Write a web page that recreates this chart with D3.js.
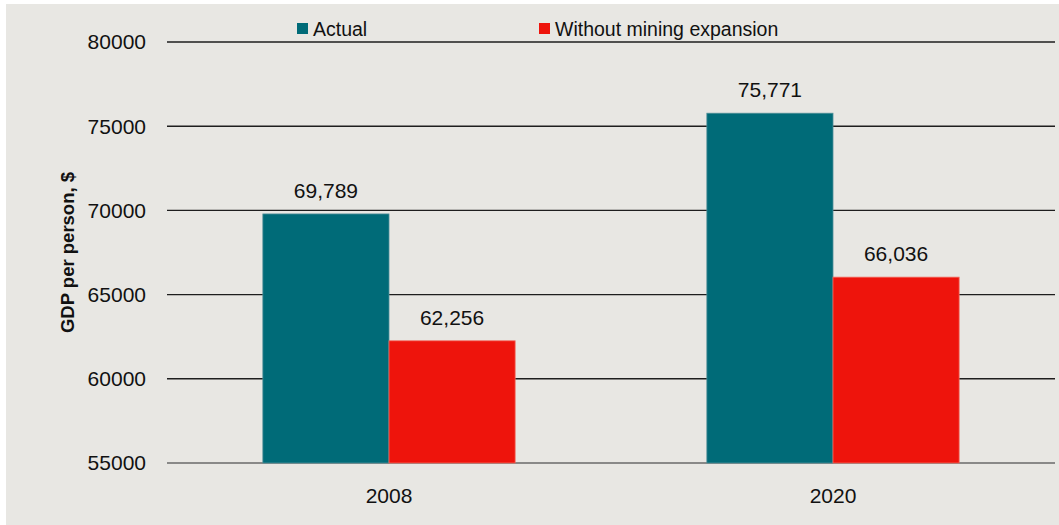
<!DOCTYPE html>
<html>
<head>
<meta charset="utf-8">
<script src="https://cdn.jsdelivr.net/npm/d3@7"></script>
<style>
  html, body { margin: 0; padding: 0; background: #ffffff; }
  svg { display: block; }
  text { font-family: "Liberation Sans", Arial, sans-serif; fill: #111; }
</style>
</head>
<body>
<svg id="chart" width="1059" height="525"></svg>
<script>
// GDP per person, actual vs. without the mining expansion
const years = ["2008", "2020"];
const seriesNames = ["Actual", "Without mining expansion"];
const actual = [69789, 75771];
const withoutMining = [62256, 66036];
const yTicks = [55000, 60000, 65000, 70000, 75000, 80000];
const colors = ["#006b78", "#ee140c"];

const svg = d3.select("#chart");
const W = 1059, H = 525;
const margin = { left: 167, right: 4, top: 42, bottom: 62 };

// panel background
svg.append("rect").attr("x", 6).attr("y", 4).attr("width", W - 6).attr("height", H - 4)
  .attr("fill", "#e8e7e3");

const x0 = d3.scaleBand().domain(years).range([margin.left, W - margin.right]);
const x1 = d3.scaleBand().domain(seriesNames).range([0, x0.bandwidth()]).paddingOuter(0.76).paddingInner(0);
const y = d3.scaleLinear().domain([55000, 80000]).range([H - margin.bottom, margin.top]);

// horizontal grid lines
svg.append("g").selectAll("line").data(yTicks).join("line")
  .attr("x1", margin.left).attr("x2", W - margin.right)
  .attr("y1", d => y(d)).attr("y2", d => y(d))
  .attr("stroke", d => d === 55000 ? "#6a6a6a" : "#1e1e1e")
  .attr("stroke-width", 1.4);

// y tick labels
svg.append("g").selectAll("text").data(yTicks).join("text")
  .attr("x", 146).attr("y", d => y(d)).attr("dy", "0.35em")
  .attr("text-anchor", "end").attr("font-size", 21)
  .text(d => d);

// y axis title
svg.append("text")
  .attr("transform", `translate(74,${(y(55000) + y(80000)) / 2}) rotate(-90)`)
  .attr("text-anchor", "middle").attr("font-size", 18.5).attr("font-weight", "bold")
  .text("GDP per person, $");

const rows = years.map((yr, i) => ({ year: yr, values: [actual[i], withoutMining[i]] }));

const groups = svg.append("g").selectAll("g").data(rows).join("g")
  .attr("transform", d => `translate(${x0(d.year)},0)`);

groups.selectAll("rect").data(d => d.values.map((v, j) => ({ key: seriesNames[j], v, j }))).join("rect")
  .attr("x", d => x1(d.key)).attr("width", x1.bandwidth())
  .attr("y", d => y(d.v)).attr("height", d => y(55000) - y(d.v))
  .attr("fill", d => colors[d.j])
  .attr("stroke", d => d.j === 0 ? "#4f8f98" : "#f26a5e").attr("stroke-width", 0.8);

// value labels above bars
groups.selectAll("text.val").data(d => d.values.map((v, j) => ({ key: seriesNames[j], v }))).join("text")
  .attr("class", "val")
  .attr("x", d => x1(d.key) + x1.bandwidth() / 2)
  .attr("y", d => y(d.v) - 16)
  .attr("text-anchor", "middle").attr("font-size", 21)
  .text(d => d3.format(",")(d.v));

// category labels
svg.append("g").selectAll("text").data(years).join("text")
  .attr("x", d => x0(d) + x0.bandwidth() / 2).attr("y", y(55000) + 40)
  .attr("text-anchor", "middle").attr("font-size", 21)
  .text(d => d);

// legend
const legendX = [297, 539];
const leg = svg.append("g").selectAll("g").data(seriesNames).join("g")
  .attr("transform", (d, i) => `translate(${legendX[i]},23)`);
leg.append("rect").attr("width", 11).attr("height", 11).attr("fill", (d, i) => colors[i]);
leg.append("text").attr("x", 16).attr("y", 13).attr("font-size", 19.5).text(d => d);
</script>
</body>
</html>
